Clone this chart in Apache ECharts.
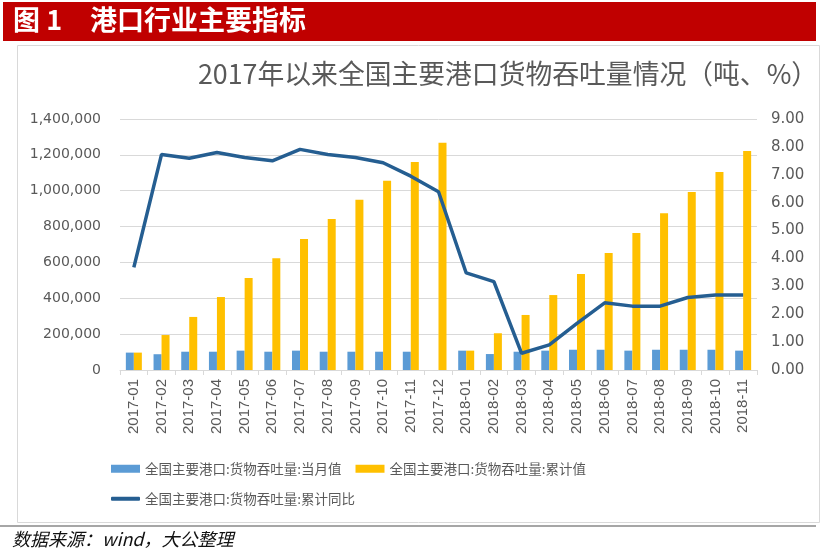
<!DOCTYPE html>
<html><head><meta charset="utf-8">
<script src="https://cdn.jsdelivr.net/npm/echarts@6/dist/echarts.min.js"></script>
<style>html,body{margin:0;padding:0;background:#fff}#c{width:826px;height:555px}</style>
</head><body><div id="c"></div>
<script>
const categories = ['2017-01','2017-02','2017-03','2017-04','2017-05','2017-06','2017-07','2017-08','2017-09','2017-10','2017-11','2017-12','2018-01','2018-02','2018-03','2018-04','2018-05','2018-06','2018-07','2018-08','2018-09','2018-10','2018-11'];
const monthly = [97000,88000,102000,102000,108000,102000,108000,102000,102000,102000,102000,null,108000,89000,102000,108000,113000,113000,108000,113000,113000,113000,108000];
const cumulative = [97000,195000,296000,407000,513000,623000,731000,842000,950000,1056000,1160000,1268000,108000,205000,307000,418000,535000,653000,764000,874000,993000,1104000,1221000];
const yoy = [3.68,7.73,7.59,7.80,7.62,7.50,7.91,7.73,7.62,7.43,6.95,6.39,3.48,3.17,0.60,0.90,1.67,2.41,2.29,2.29,2.60,2.69,2.69];
const leftTicks = {min:0,max:1400000,interval:200000};
const rightTicks = {min:0,max:9,interval:1};
const names = ['全国主要港口:货物吞吐量:当月值','全国主要港口:货物吞吐量:累计值','全国主要港口:货物吞吐量:累计同比'];

const chart = echarts.init(document.getElementById('c'), null, {renderer:'canvas'});
const txt = '#595959';
const font = '"Noto Sans CJK SC","Noto Sans",sans-serif';
const numFont = '"DejaVu Sans",sans-serif';
chart.setOption({
  animation:false,
  textStyle:{fontFamily:font},
  graphic:[
    {type:'rect',shape:{x:3,y:2,width:813,height:39},style:{fill:'#C00000'},z:0},
    {type:'text',left:13,top:6,style:{text:'图 1',fill:'#fff',font:'bold 27px '+font}},
    {type:'text',left:90,top:6,style:{text:'港口行业主要指标',fill:'#fff',font:'bold 27px '+font}},
    {type:'rect',shape:{x:17.5,y:45.5,width:802,height:477},style:{fill:'none',stroke:'#d9d9d9',lineWidth:1},z:0},
    {type:'rect',shape:{x:0,y:525,width:816,height:2},style:{fill:'#a6a6a6'},z:0},
    {type:'text',left:198,top:60,style:{text:'2017年以来全国主要港口货物吞吐量情况（吨、%）',fill:txt,font:'26.8px '+font}},
    {type:'text',left:12,top:530,style:{text:'数据来源：wind，大公整理',fill:'#111',font:'italic 18px '+font}}
  ],
  grid:{left:120,right:69,top:119,bottom:185},
  legend:[
    {left:106,top:457,itemWidth:29,itemHeight:8,itemGap:14,icon:'rect',textStyle:{color:txt,fontSize:13.5,fontFamily:font},data:[names[0],names[1]]},
    {left:106,top:487,itemWidth:29,itemHeight:4,icon:'roundRect',textStyle:{color:txt,fontSize:13.5,fontFamily:font},data:[names[2]]}
  ],
  xAxis:{type:'category',data:categories,boundaryGap:true,
    axisLine:{lineStyle:{color:'#d9d9d9'}},
    axisTick:{show:true,length:5,lineStyle:{color:'#d9d9d9'}},
    axisLabel:{rotate:90,color:txt,fontSize:15,fontFamily:'"Liberation Sans",Arial,sans-serif',margin:9,interval:0}},
  yAxis:[
    {type:'value',min:leftTicks.min,max:leftTicks.max,interval:leftTicks.interval,
     axisLine:{show:false},axisTick:{show:false},
     splitLine:{lineStyle:{color:'#d9d9d9'}},
     axisLabel:{color:txt,fontSize:14,fontFamily:numFont,margin:19,formatter:v=>v.toLocaleString('en-US')}},
    {type:'value',min:rightTicks.min,max:rightTicks.max,interval:rightTicks.interval,
     axisLine:{show:false},axisTick:{show:false},splitLine:{show:false},
     axisLabel:{color:txt,fontSize:15,fontFamily:numFont,margin:14,formatter:v=>v.toFixed(2)}}
  ],
  series:[
    {name:names[0],type:'bar',data:monthly,barWidth:8,barGap:'0%',itemStyle:{color:'#5B9BD5'}},
    {name:names[1],type:'bar',data:cumulative,barWidth:8,itemStyle:{color:'#FFC000'}},
    {name:names[2],type:'line',yAxisIndex:1,data:yoy,symbol:'none',lineStyle:{color:'#255E91',width:3.5},itemStyle:{color:'#255E91'},z:5}
  ]
});
</script></body></html>
